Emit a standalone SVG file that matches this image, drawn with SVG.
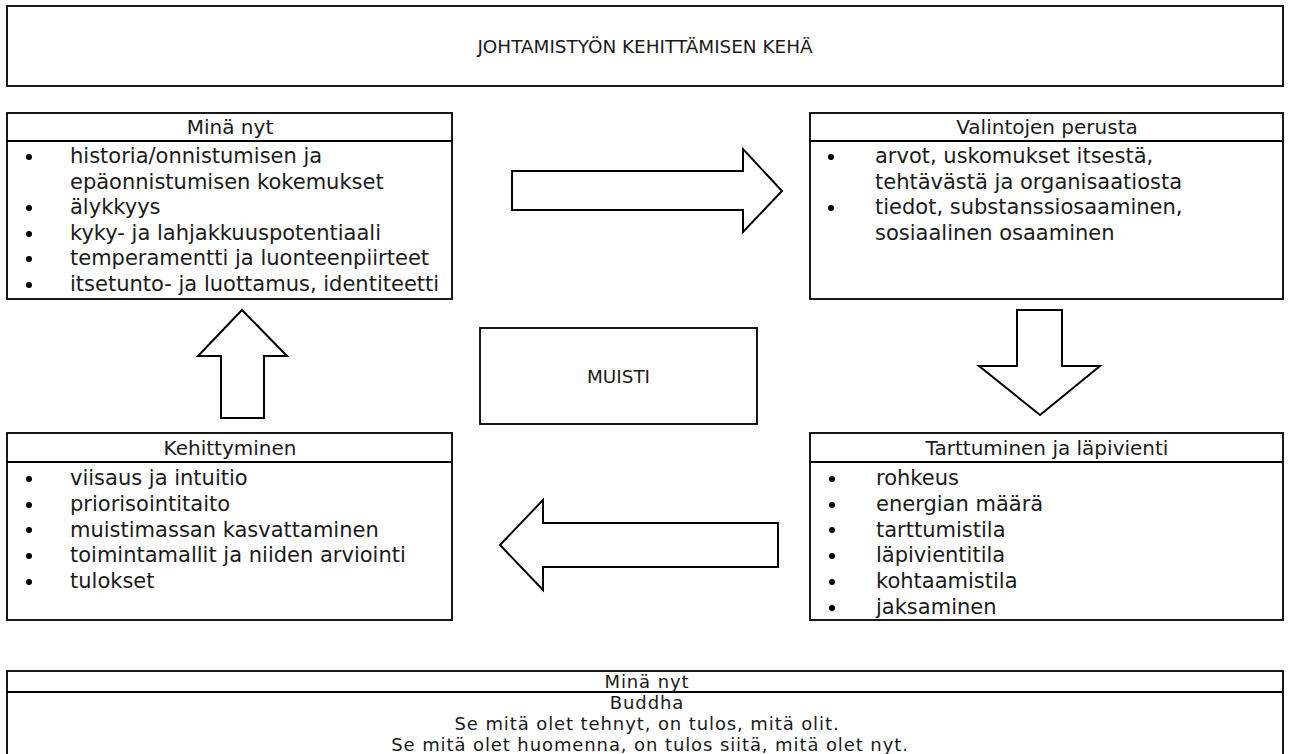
<svg xmlns="http://www.w3.org/2000/svg" width="1290" height="754" viewBox="0 0 1290 754">
  <style>
    .box { fill: #ffffff; stroke: #000000; stroke-width: 1.8; }
    .rule { stroke: #000000; stroke-width: 1.8; }
    .arrow { fill: #ffffff; stroke: #000000; stroke-width: 2; stroke-linejoin: miter; }
    text { font-family: "DejaVu Sans", "Liberation Sans", sans-serif; fill: #1a1a1a; }
    .title { font-size: 18.4px; text-anchor: middle; }
    .head { font-size: 20px; text-anchor: middle; }
    .item { font-size: 21px; }
    .quote { font-size: 18px; letter-spacing: 0.9px; text-anchor: middle; }
    .dot { fill: #000000; }
  </style>
  <rect width="1290" height="754" fill="#ffffff"/>

  <!-- heading box -->
  <g id="title">
    <rect class="box" x="7" y="6" width="1276" height="80"/>
    <text class="title" x="645" y="53">JOHTAMISTYÖN KEHITTÄMISEN KEHÄ</text>
  </g>

  <!-- top-left: Minä nyt -->
  <g id="mina-nyt">
    <rect class="box" x="7" y="113" width="445" height="186"/>
    <line class="rule" x1="7" y1="141" x2="452" y2="141"/>
    <text class="head" x="230" y="134">Minä nyt</text>
    <circle class="dot" cx="29" cy="157" r="3"/>
    <text class="item" x="70" y="163">historia/onnistumisen ja</text>
    <text class="item" x="70" y="188.6">epäonnistumisen kokemukset</text>
    <circle class="dot" cx="29" cy="208" r="3"/>
    <text class="item" x="70" y="214.2">älykkyys</text>
    <circle class="dot" cx="29" cy="234" r="3"/>
    <text class="item" x="70" y="239.8">kyky- ja lahjakkuuspotentiaali</text>
    <circle class="dot" cx="29" cy="259" r="3"/>
    <text class="item" x="70" y="265.4">temperamentti ja luonteenpiirteet</text>
    <circle class="dot" cx="29" cy="285" r="3"/>
    <text class="item" x="70" y="291">itsetunto- ja luottamus, identiteetti</text>
  </g>

  <!-- top-right: Valintojen perusta -->
  <g id="valintojen-perusta">
    <rect class="box" x="810" y="113" width="473" height="186"/>
    <line class="rule" x1="810" y1="141" x2="1283" y2="141"/>
    <text class="head" x="1047" y="134">Valintojen perusta</text>
    <circle class="dot" cx="831" cy="157" r="3"/>
    <text class="item" x="875" y="163">arvot, uskomukset itsestä,</text>
    <text class="item" x="875" y="188.6">tehtävästä ja organisaatiosta</text>
    <circle class="dot" cx="831" cy="208" r="3"/>
    <text class="item" x="875" y="214.2">tiedot, substanssiosaaminen,</text>
    <text class="item" x="875" y="239.8">sosiaalinen osaaminen</text>
  </g>

  <!-- centre: MUISTI -->
  <g id="muisti">
    <rect class="box" x="480" y="328" width="277" height="96"/>
    <text class="title" x="618.5" y="383">MUISTI</text>
  </g>

  <!-- bottom-left: Kehittyminen -->
  <g id="kehittyminen">
    <rect class="box" x="7" y="433" width="445" height="187"/>
    <line class="rule" x1="7" y1="462" x2="452" y2="462"/>
    <text class="head" x="230" y="454.5">Kehittyminen</text>
    <circle class="dot" cx="29" cy="479" r="3"/>
    <text class="item" x="70" y="485">viisaus ja intuitio</text>
    <circle class="dot" cx="29" cy="505" r="3"/>
    <text class="item" x="70" y="511">priorisointitaito</text>
    <circle class="dot" cx="29" cy="530" r="3"/>
    <text class="item" x="70" y="536.5">muistimassan kasvattaminen</text>
    <circle class="dot" cx="29" cy="556" r="3"/>
    <text class="item" x="70" y="562">toimintamallit ja niiden arviointi</text>
    <circle class="dot" cx="29" cy="582" r="3"/>
    <text class="item" x="70" y="588">tulokset</text>
  </g>

  <!-- bottom-right: Tarttuminen ja läpivienti -->
  <g id="tarttuminen">
    <rect class="box" x="810" y="433" width="473" height="187"/>
    <line class="rule" x1="810" y1="462" x2="1283" y2="462"/>
    <text class="head" x="1047" y="454.5">Tarttuminen ja läpivienti</text>
    <circle class="dot" cx="832" cy="479" r="3"/>
    <text class="item" x="876" y="485">rohkeus</text>
    <circle class="dot" cx="832" cy="505" r="3"/>
    <text class="item" x="876" y="511">energian määrä</text>
    <circle class="dot" cx="832" cy="530" r="3"/>
    <text class="item" x="876" y="536.5">tarttumistila</text>
    <circle class="dot" cx="832" cy="556" r="3"/>
    <text class="item" x="876" y="562">läpivientitila</text>
    <circle class="dot" cx="832" cy="582" r="3"/>
    <text class="item" x="876" y="588">kohtaamistila</text>
    <circle class="dot" cx="832" cy="608" r="3"/>
    <text class="item" x="876" y="614">jaksaminen</text>
  </g>

  <!-- footer: quotation -->
  <g id="lainaus">
    <rect class="box" x="7" y="671" width="1276" height="100"/>
    <line class="rule" x1="7" y1="692" x2="1283" y2="692"/>
    <text class="quote" x="647" y="687.5">Minä nyt</text>
    <text class="quote" x="647" y="708.5">Buddha</text>
    <text class="quote" x="647" y="729.5">Se mitä olet tehnyt, on tulos, mitä olit.</text>
    <text class="quote" x="650" y="750.5">Se mitä olet huomenna, on tulos siitä, mitä olet nyt.</text>
  </g>

  <!-- block arrows of the cycle -->
  <g id="connectors">
    <polygon class="arrow" points="512,171 743,171 743,149 782,191 743,232 743,210 512,210"/>
    <polygon class="arrow" points="1017,310 1062,310 1062,366 1100,366 1040,415 979,366 1017,366"/>
    <polygon class="arrow" points="778,523 543,523 543,500 500,545 543,590 543,567 778,567"/>
    <polygon class="arrow" points="221,418 264,418 264,356 287,356 242,310 198,356 221,356"/>
  </g>
</svg>
